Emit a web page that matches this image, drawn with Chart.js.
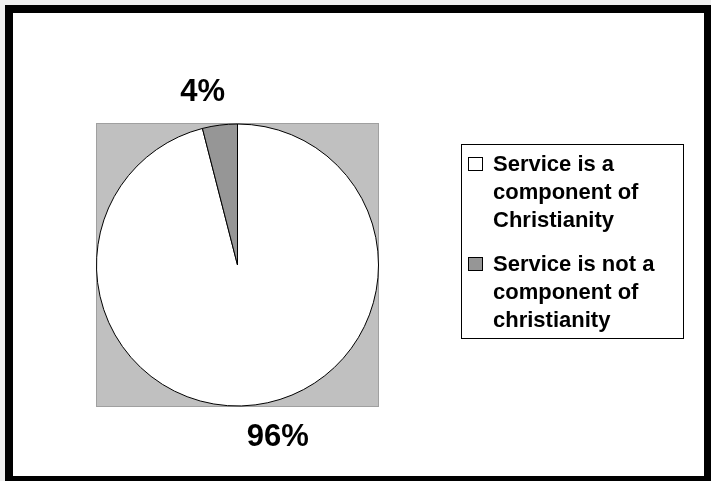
<!DOCTYPE html>
<html>
<head>
<meta charset="utf-8">
<script src="https://cdn.jsdelivr.net/npm/chart.js@4.4.1/dist/chart.umd.min.js"></script>
<style>
  body { margin: 0; background: #efefef; width: 711px; height: 481px; overflow: hidden; }
  #frame {
    position: absolute; left: 5px; top: 5px;
    width: 691px; height: 463px;
    background: #ffffff;
    border-left: 8px solid #000; border-top: 8px solid #000;
    border-right: 7px solid #000; border-bottom: 5px solid #000;
  }
  #wrap { position: absolute; left: 0; top: 0; width: 711px; height: 481px; }
</style>
</head>
<body>
<div id="frame"></div>
<div id="wrap"><canvas id="chart"></canvas></div>
<script>
// Chart data
const categories = ['Service is a component of Christianity', 'Service is not a component of christianity'];
const values = [96, 4];
const sliceColors = ['#ffffff', '#969696'];

const fontFamily = '"Liberation Sans", Arial, sans-serif';

// Gray square behind the pie
const plotBack = {
    id: 'plotBack',
    beforeDatasetsDraw(chart) {
        const a = chart.chartArea;
        const ctx = chart.ctx;
        ctx.save();
        ctx.fillStyle = '#c0c0c0';
        ctx.fillRect(a.left, a.top, a.right - a.left, a.bottom - a.top);
        ctx.strokeStyle = '#a0a0a0';
        ctx.lineWidth = 1;
        ctx.strokeRect(a.left + 0.5, a.top + 0.5, a.right - a.left - 1, a.bottom - a.top - 1);
        ctx.restore();
    }
};

// Percent labels outside the slices
const pctLabels = {
    id: 'pctLabels',
    afterDatasetsDraw(chart) {
        const ctx = chart.ctx;
        const meta = chart.getDatasetMeta(0);
        ctx.save();
        ctx.font = 'bold 31px ' + fontFamily;
        ctx.fillStyle = '#000';
        ctx.textAlign = 'center';
        ctx.textBaseline = 'middle';
        meta.data.forEach((arc, i) => {
            const mid = (arc.startAngle + arc.endAngle) / 2;
            const dist = arc.outerRadius + 33;
            const kx = Math.sin(mid) > 0 ? 1.85 : 1.6;
            const x = arc.x + Math.cos(mid) * dist * kx;
            const y = arc.y + Math.sin(mid) * dist;
            ctx.fillText(values[i] + '%', x, y);
        });
        ctx.restore();
    }
};

// Wrap a label into lines that fit in the legend box
function wrap_text(ctx, text, maxWidth) {
    const words = text.split(' ');
    var lines = [];
    var line = '';
    words.forEach(word => {
        const test = line ? line + ' ' + word : word;
        if (ctx.measureText(test).width > maxWidth && line) {
            lines.push(line);
            line = word;
        } else {
            line = test;
        }
    });
    lines.push(line);
    return lines;
}

// Legend box on the right
const boxLegend = {
    id: 'boxLegend',
    afterDraw(chart) {
        const ctx = chart.ctx;
        const left = 461, top = 144, right = 683, bottom = 338;
        ctx.save();
        ctx.fillStyle = '#fff';
        ctx.fillRect(left, top, right - left, bottom - top);
        ctx.strokeStyle = '#000';
        ctx.lineWidth = 1;
        ctx.strokeRect(left + 0.5, top + 0.5, right - left, bottom - top);

        ctx.font = 'bold 22px ' + fontFamily;
        ctx.textBaseline = 'alphabetic';
        ctx.textAlign = 'left';
        const lineH = 28;
        var baseline = 171;
        categories.forEach((cat, i) => {
            const lines = wrap_text(ctx, cat, 185);
            // marker
            ctx.fillStyle = sliceColors[i];
            ctx.fillRect(468, baseline - 14, 15, 14);
            ctx.strokeStyle = '#000';
            ctx.strokeRect(468.5, baseline - 13.5, 14, 13);
            ctx.fillStyle = '#000';
            lines.forEach((ln, j) => {
                ctx.fillText(ln, 493, baseline + j * lineH);
            });
            baseline += lines.length * lineH + 16;
        });
        ctx.restore();
    }
};

document.addEventListener('DOMContentLoaded', () => {
    const ctx = document.getElementById('chart');
    new Chart(ctx, {
        type: 'pie',
        data: {
            labels: categories,
            datasets: [{
                data: values,
                backgroundColor: sliceColors,
                borderColor: '#000',
                borderWidth: 1
            }]
        },
        options: {
            responsive: true,
            maintainAspectRatio: false,
            animation: false,
            layout: { padding: { left: 96, top: 123, right: 332, bottom: 74 } },
            plugins: {
                legend: { display: false },
                tooltip: { enabled: false }
            }
        },
        plugins: [plotBack, pctLabels, boxLegend]
    });
});
</script>
</body>
</html>
